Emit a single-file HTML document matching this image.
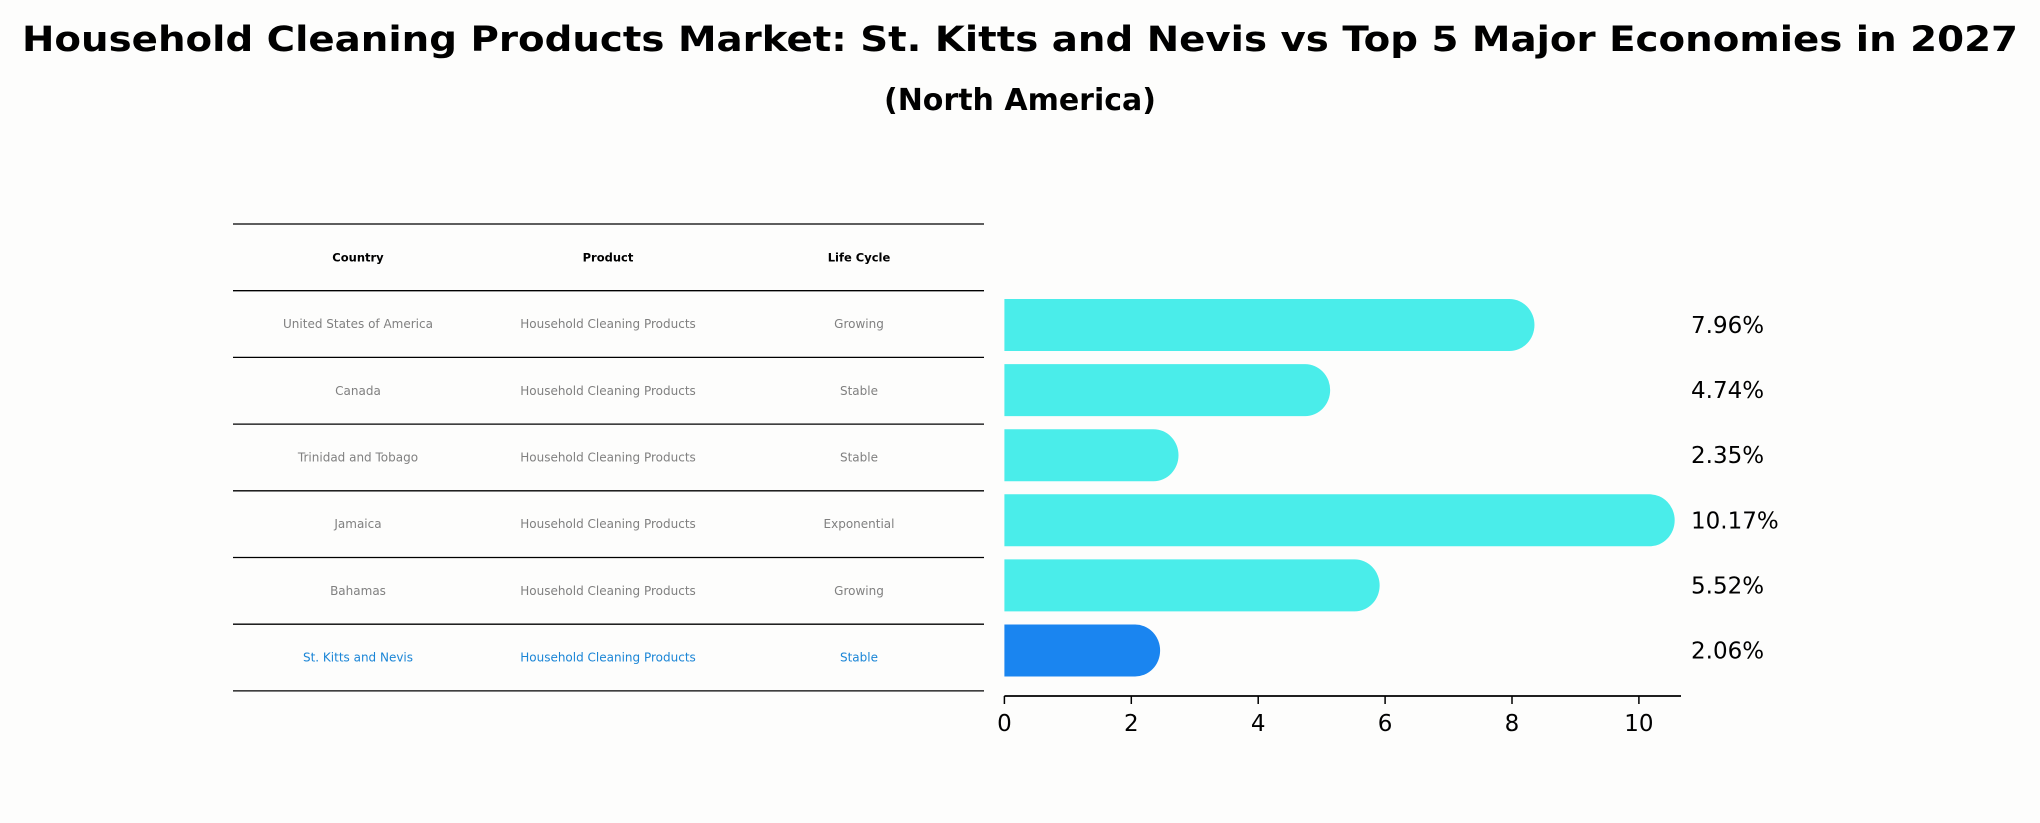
<!DOCTYPE html>
<html><head><meta charset="utf-8"><style>
html,body{margin:0;padding:0;background:#fdfdfc;}
svg{display:block;font-family:"DejaVu Sans","Liberation Sans",sans-serif;}
</style></head><body>
<svg id="chart" width="2040" height="823" viewBox="0 0 2040 823" xmlns="http://www.w3.org/2000/svg">
<rect width="2040" height="823" fill="#fdfdfc"/>
<text x="1020" y="51" text-anchor="middle" font-size="35" font-weight="bold" fill="#000" textLength="1996" lengthAdjust="spacingAndGlyphs">Household Cleaning Products Market: St. Kitts and Nevis vs Top 5 Major Economies in 2027</text>
<text x="1020" y="110" text-anchor="middle" font-size="30" font-weight="bold" fill="#000">(North America)</text>
<g id="table"></g>
<g id="bars"></g>
</svg>
<script>
const countries = ["United States of America","Canada","Trinidad and Tobago","Jamaica","Bahamas","St. Kitts and Nevis"];
const products = ["Household Cleaning Products","Household Cleaning Products","Household Cleaning Products","Household Cleaning Products","Household Cleaning Products","Household Cleaning Products"];
const lifeCycles = ["Growing","Stable","Stable","Exponential","Growing","Stable"];
const values = [7.96,4.74,2.35,10.17,5.52,2.06];
const valueLabels = ["7.96%","4.74%","2.35%","10.17%","5.52%","2.06%"];
const xTicks = [0,2,4,6,8,10];
const highlightIndex = 5;

const NS="http://www.w3.org/2000/svg";
function mk(tag, attrs, parent){const e=document.createElementNS(NS,tag);for(const k in attrs)e.setAttribute(k,attrs[k]);parent.appendChild(e);return e;}

// table
const tbl=document.getElementById('table');
const tLeft=233, tRight=984, rowTop=224, rowH=66.7;
const colX=[358,608,859];
const headers=["Country","Product","Life Cycle"];
for(let i=0;i<=countries.length+1;i++){
  const y=rowTop+i*rowH;
  const ln=mk('line',{x1:tLeft,x2:tRight,y1:y,y2:y,stroke:'#000','stroke-width':1.3},tbl);
  
  
}
headers.forEach((h,j)=>{
  const t=mk('text',{x:colX[j],y:rowTop+rowH/2+4,'text-anchor':'middle','font-size':11.5,'font-weight':'bold',fill:'#000'},tbl);
  t.textContent=h;
  
  
});
countries.forEach((c,i)=>{
  const y=rowTop+(i+1)*rowH+rowH/2+4;
  const col=i===highlightIndex?'#1a85d6':'#808080';
  [c,products[i],lifeCycles[i]].forEach((v,j)=>{
    const t=mk('text',{x:colX[j],y:y,'text-anchor':'middle','font-size':12,fill:col},tbl);
    t.textContent=v;
    
    
  });
});

// bars
const g=document.getElementById('bars');
const x0=1004.4, pxPerUnit=63.45;
const xs=v=>x0+v*pxPerUnit;
const barTop=325, barStep=65.1, barH=52;
const ys=i=>barTop+i*barStep;
values.forEach((v,i)=>{
  const cy=ys(i), x1=xs(v), r=barH/2, rx=25;
  const col=i===highlightIndex?'#1a85f0':'#4aedea';
  const p=mk('path',{d:`M${x0},${cy-r} L${x1},${cy-r} A${rx},${r} 0 0 1 ${x1},${cy+r} L${x0},${cy+r} Z`,fill:col},g);
  
  
  const t=mk('text',{x:1691,y:cy+8,'font-size':23,fill:'#000'},g);
  t.textContent=valueLabels[i];
  
  
});
const axisY=696;
const ax=mk('line',{x1:x0,x2:1681,y1:axisY,y2:axisY,stroke:'#000','stroke-width':1.8},g);


xTicks.forEach(v=>{
  const tk=mk('line',{x1:xs(v),x2:xs(v),y1:axisY,y2:axisY+8,stroke:'#000','stroke-width':1.5},g);
  
  
  const t=mk('text',{x:xs(v),y:axisY+35,'text-anchor':'middle','font-size':23,fill:'#000'},g);
  t.textContent=v;
  
  
});
</script>
</body></html>
